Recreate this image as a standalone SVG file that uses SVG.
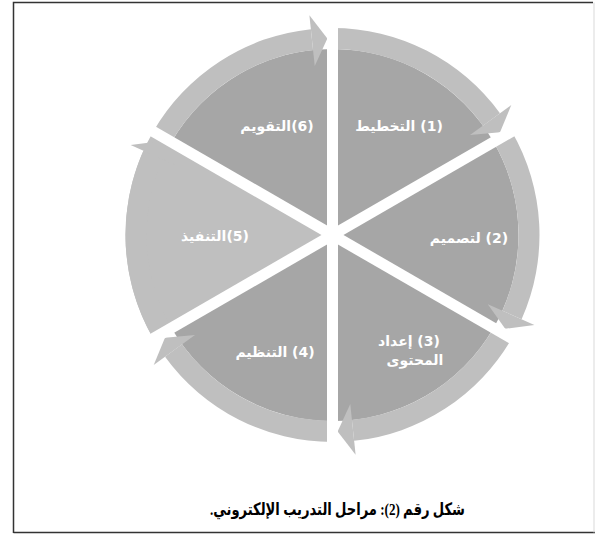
<svg xmlns="http://www.w3.org/2000/svg" width="595" height="535" viewBox="0 0 595 535">
<style>
.sector{fill:#a6a6a6}
.light{fill:#bfbfbf}
.band{fill:#bfbfbf}
.sep{stroke:#ffffff;stroke-width:11;stroke-linecap:butt}
.lbl{fill:#ffffff;font-family:"DejaVu Sans","Noto Sans",sans-serif;font-weight:bold;font-size:14px;text-anchor:middle}
.cap{fill:#000000;font-family:"Liberation Serif","DejaVu Sans",serif;font-weight:bold;font-size:17px;text-anchor:middle}
</style>
<rect x="0" y="0" width="595" height="535" fill="#ffffff"/>
<g id="frame" fill="none">
<polyline points="13.5,533 13.5,2.5 593,2.5" stroke="#333333" stroke-width="1.5"/>
<line x1="13.5" y1="532.5" x2="595" y2="532.5" stroke="#333333" stroke-width="1.5"/>
<line x1="594" y1="2.5" x2="594" y2="532.5" stroke="#d9d9d9" stroke-width="1"/>
</g>
<g id="seg1">
<path class="sector" d="M332.5,235 L332.5,49 A186,186 0 0 1 493.58,142 Z"/>
</g>
<g id="seg2">
<path class="sector" d="M332.5,235 L493.58,142 A186,186 0 0 1 493.58,328 Z"/>
</g>
<g id="seg3">
<path class="sector" d="M332.5,235 L493.58,328 A186,186 0 0 1 332.5,421 Z"/>
</g>
<g id="seg4">
<path class="sector" d="M332.5,235 L332.5,421 A186,186 0 0 1 171.42,328 Z"/>
</g>
<g id="seg5">
<path class="light" d="M332.5,235 L153.23,338.5 A207,207 0 0 1 153.23,131.5 Z"/>
</g>
<g id="seg6">
<path class="sector" d="M332.5,235 L171.42,142 A186,186 0 0 1 332.5,49 Z"/>
</g>
<g id="connectors">
<path class="band" d="M332.5,28 A207,207 0 0 1 499.97,113.33 L482.98,125.67 A186,186 0 0 0 332.5,49 Z"/>
<polygon class="band" points="511.29,105.10 500.04,132.33 470.03,135.08"/>
<path class="band" d="M511.77,131.5 A207,207 0 0 1 521.60,319.20 L502.42,310.65 A186,186 0 0 0 493.58,142 Z"/>
<polygon class="band" points="534.39,324.89 505.19,328.76 487.80,304.15"/>
<path class="band" d="M511.77,338.5 A207,207 0 0 1 354.14,440.87 L351.94,419.98 A186,186 0 0 0 493.58,328 Z"/>
<polygon class="band" points="355.60,454.79 337.64,431.43 350.27,404.07"/>
<path class="band" d="M332.5,442 A207,207 0 0 1 165.03,356.67 L182.02,344.33 A186,186 0 0 0 332.5,421 Z"/>
<polygon class="band" points="153.71,364.90 164.96,337.67 194.97,334.92"/>
<path class="band" d="M153.23,338.5 A207,207 0 0 1 143.40,150.80 L162.58,159.35 A186,186 0 0 0 171.42,328 Z"/>
<polygon class="band" points="130.61,145.11 159.81,141.24 177.20,165.85"/>
<path class="band" d="M153.23,131.5 A207,207 0 0 1 310.86,29.13 L313.06,50.02 A186,186 0 0 0 171.42,142 Z"/>
<polygon class="band" points="309.40,15.21 327.36,38.57 314.73,65.93"/>
</g>
<g id="separators">
<line class="sep" x1="332.5" y1="7" x2="332.5" y2="463"/>
<line class="sep" x1="529.95" y1="121" x2="135.05" y2="349"/>
<line class="sep" x1="529.95" y1="349" x2="135.05" y2="121"/>
</g>
<g id="labels">
<text class="lbl" x="399" y="131" direction="rtl">(1) التخطيط</text>
<text class="lbl" x="469" y="243" direction="rtl">(2) لتصميم</text>
<text class="lbl" x="409" y="346" direction="rtl">(3) إعداد</text>
<text class="lbl" x="415" y="365" direction="rtl">المحتوى</text>
<text class="lbl" x="275" y="357" direction="rtl">(4) التنظيم</text>
<text class="lbl" x="215" y="241" direction="rtl">(5)التنفيذ</text>
<text class="lbl" x="277" y="131" direction="rtl">(6)التقويم</text>
</g>
<g id="caption">
<text class="cap" x="337.5" y="515" direction="rtl" textLength="255" lengthAdjust="spacingAndGlyphs">شكل رقم (2): مراحل التدريب الإلكتروني.</text>
</g>
</svg>
